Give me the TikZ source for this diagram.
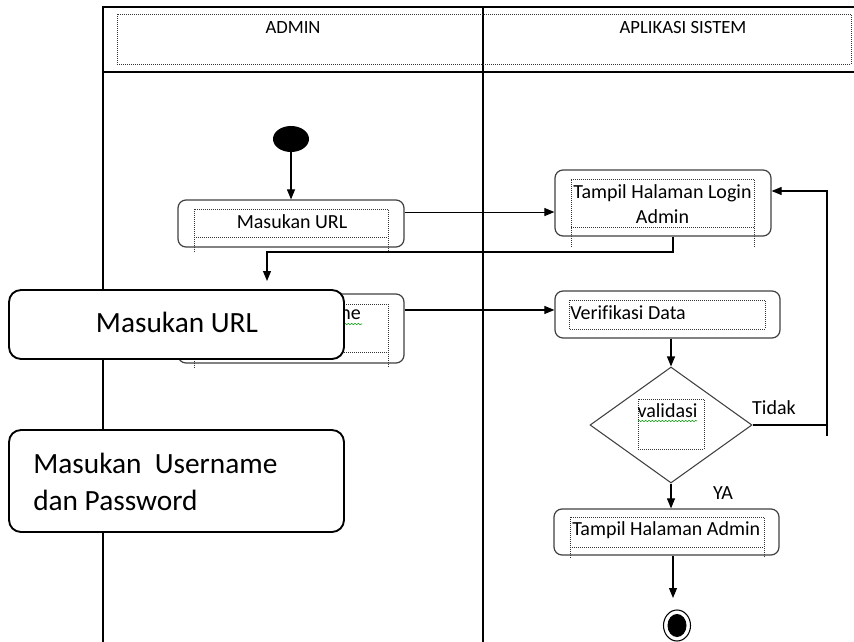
\documentclass[tikz,border=0pt]{standalone}
\usepackage{fontspec}
\setmainfont{Carlito}[Ligatures=CommonOff]
\usetikzlibrary{arrows.meta,shapes.geometric,decorations.pathmorphing}

\begin{document}
\begin{tikzpicture}[x=0.75pt,y=-0.75pt,
		act/.style={draw=black!75,line width=0.9pt,rounded corners=6pt,fill=white,inner sep=0pt},
		note/.style={draw=black,line width=1.4pt,rounded corners=9pt,fill=white,inner sep=0pt,minimum width=251.25pt},
		dotbox/.style={densely dotted,line width=0.5pt,black!80},
		flow/.style={line width=0.8pt,-{Triangle[length=7.5pt,width=6pt]}},
		lbl/.style={font=\fontsize{15}{18.75}\selectfont},
		hdr/.style={font=\fontsize{14}{17}\selectfont},
		big/.style={font=\fontsize{22}{27.75}\selectfont},
		spell/.style={green!60!black,line width=0.4pt,decorate,decoration={snake,amplitude=0.5pt,segment length=2.5pt}}]
			\useasboundingbox (0,0) rectangle (854,642);
			\draw[line width=0.8pt] (103,642) -- (103,7) -- (854,7);
			\draw[line width=0.8pt] (103,72) -- (854,72);
			\draw[line width=0.8pt] (483,7) -- (483,642);
			\draw[dotbox] (117,14) rectangle (851,64);
			\node[hdr] (admin) at (293,28) {ADMIN};
			\node[hdr] (sistem) at (683,28) {APLIKASI SISTEM};
			
			\node[ellipse,fill,minimum width=27pt,minimum height=19.5pt,inner sep=0pt] (start) at (291,139) {};
			
			\node[act,minimum width=169.5pt,minimum height=35.25pt] (url) at (291,223.5) {};
			\draw[dotbox] (194,252) -- (194,209) -- (388,209) -- (388,252) (194,237) -- (388,237);
			\node[lbl] (urltxt) at (292,222) {Masukan URL};
			
			\node[act,minimum width=162pt,minimum height=49.5pt] (login) at (663,203) {};
			\draw[dotbox] (571,247) -- (571,179) -- (754,179) -- (754,247) (571,227) -- (754,227);
			\node[lbl,align=center] (logintxt) at (662.5,204.5) {Tampil Halaman Login\\Admin};
			
			\node[act,minimum width=169.5pt,minimum height=51.75pt] (user) at (291,328.5) {};
			\draw[dotbox] (194,368) -- (194,304) -- (388,304) -- (388,368) (194,352) -- (388,352);
			\node[lbl,anchor=east,inner sep=0pt] (usertxt) at (361,315) {ne};
			\draw[spell] (344,324) -- (362,324);
			
			\node[act,minimum width=168.75pt,minimum height=35.25pt] (verif) at (667.5,314.5) {};
			\draw[dotbox] (569,300) rectangle (765,329);
			\node[lbl,anchor=west,inner sep=0pt] (veriftxt) at (570,313) {Verifikasi Data};
			
			\node[diamond,draw=black!75,line width=0.8pt,aspect=1.4,minimum width=121.5pt,minimum height=87pt,inner sep=0pt] (valid) at (671,425) {};
			\draw[dotbox] (638,399) rectangle (704,449);
			\node[lbl] (validtxt) at (667.5,411) {validasi};
			\draw[spell] (638,421) -- (697,421);
			\node[lbl] (tidak) at (774,408) {Tidak};
			\node[lbl] (ya) at (723,493) {YA};
			
			\node[act,minimum width=168.75pt,minimum height=34.5pt] (page) at (666.5,532) {};
			\draw[dotbox] (570,558) -- (570,517) -- (764,517) -- (764,558) (570,547) -- (764,547);
			\node[lbl,anchor=west,inner sep=0pt] (pagetxt) at (572,530) {Tampil Halaman Admin};
			
			\node[ellipse,draw,line width=0.8pt,minimum width=20.25pt,minimum height=23.25pt,inner sep=0pt] (stop) at (677,625.5) {};
			\node[ellipse,fill,minimum width=14.25pt,minimum height=17.25pt,inner sep=0pt] (stopdot) at (677,625.5) {};
			
			\coordinate (urlout) at ([yshift=8.6pt]url.east);
			\coordinate (userout) at ([yshift=13.9pt]user.east);
			\coordinate (bend) at (267,252);
			\coordinate (userin) at (267,281);
			\coordinate (loopbot) at (827,436);
			\coordinate (looptop) at (827,191);
			\coordinate (stopin) at (673,598);
			
			\draw[flow] (start) -- (start |- url.north);
			\draw[flow] (urlout) -- (urlout -| login.west);
			\draw[flow] ([xshift=7.5pt]login.south) |- (bend) -- (userin);
			\draw[flow] (userout) -- (userout -| verif.west);
			\draw[flow] (valid.north |- verif.south) -- (valid.north);
			\draw[line width=0.8pt] (valid.east) -- (valid.east -| loopbot);
			\draw[flow] (loopbot) -- (looptop) -- (looptop -| login.east);
			\draw[flow] (valid.south) -- (valid.south |- page.north);
			\draw[flow] (stopin |- page.south) -- (stopin);
			
			\node[note,minimum height=51.75pt] (note1) at (176.5,324.5) {};
			\node[big] (note1txt) at (177,322) {Masukan URL};
			\node[note,minimum height=76.5pt] (note2) at (176.5,481) {};
			\node[big,anchor=west,align=left,inner sep=0pt] (note2txt) at (33,481.5) {Masukan\ \ Username\\dan Password};
		\end{tikzpicture}
\end{document}
